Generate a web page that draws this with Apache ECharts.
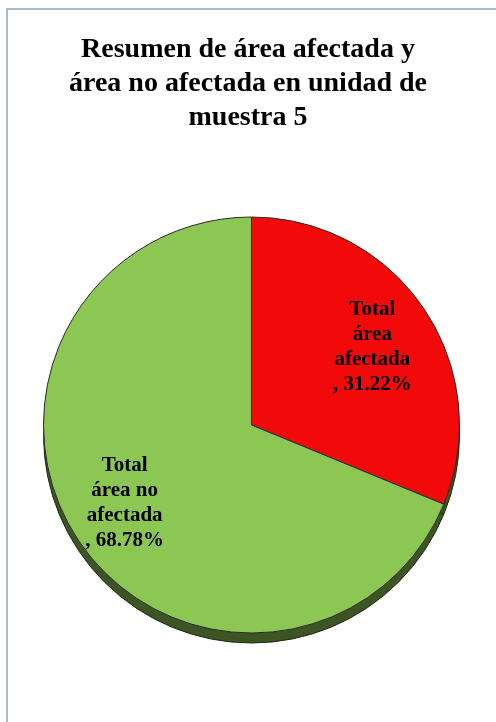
<!DOCTYPE html>
<html>
<head>
<meta charset="utf-8">
<script src="https://cdn.jsdelivr.net/npm/echarts@6/dist/echarts.min.js"></script>
<style>
  html, body { margin: 0; padding: 0; background: #ffffff; }
  #chart { width: 496px; height: 722px; }
</style>
</head>
<body>
<div id="chart"></div>
<script>
// Slice names (with their line breaks) and percentages
const categories = ['Total\nárea\nafectada', 'Total\nárea no\nafectada'];
const values = [31.22, 68.78];
const sliceColors = ['#f20a0a', '#8dc753'];
const rimColor = '#3d5524';
const titleText = 'Resumen de área afectada y\nárea no afectada en unidad de\nmuestra 5';

const serif = '"Liberation Serif", "Times New Roman", serif';
const center = [251.5, 425];
const R = 208;
// small nudges of each slice label away from the ring midpoint
const labelNudges = [[-3, 5], [-3, -5]];

const pieData = categories.map((name, i) => ({
  name: name,
  value: values[i],
  itemStyle: { color: sliceColors[i] }
}));

const chart = echarts.init(document.getElementById('chart'), null, { renderer: 'canvas' });
chart.setOption({
  backgroundColor: '#ffffff',
  animation: false,
  title: {
    text: titleText,
    left: 'center',
    top: 33,
    padding: 0,
    textStyle: {
      fontFamily: serif,
      fontSize: 28,
      fontWeight: 'bold',
      lineHeight: 34,
      color: '#000000'
    }
  },
  graphic: [{
    type: 'rect',
    shape: { x: 7, y: 9, width: 700, height: 900 },
    style: { fill: null, stroke: '#a8b8cd', lineWidth: 2 },
    silent: true,
    z: -10
  }],
  series: [
    {
      // dark side of the disc, shifted down to give the pie its thickness
      type: 'pie',
      silent: true,
      center: [center[0], center[1] + 10],
      radius: [0, R],
      startAngle: 90,
      clockwise: true,
      label: { show: false },
      labelLine: { show: false },
      itemStyle: { color: rimColor, borderColor: '#1e2a12', borderWidth: 1 },
      data: pieData.map(d => ({ name: d.name, value: d.value })),
      z: 1
    },
    {
      type: 'pie',
      silent: true,
      center: center,
      radius: [0, R],
      startAngle: 90,
      clockwise: true,
      label: { show: false },
      labelLine: { show: false },
      itemStyle: { borderColor: '#2b2b2b', borderWidth: 1 },
      data: pieData,
      z: 2
    },
    {
      // transparent ring that carries the slice labels
      type: 'pie',
      silent: true,
      center: center,
      radius: [84, R],
      startAngle: 90,
      clockwise: true,
      itemStyle: { color: 'rgba(0,0,0,0)' },
      labelLine: { show: false },
      label: {
        show: true,
        position: 'inside',
        fontFamily: serif,
        fontSize: 21,
        fontWeight: 'bold',
        lineHeight: 25,
        color: '#000000',
        align: 'center',
        formatter: p => p.name + '\n, ' + p.value.toFixed(2) + '%'
      },
      data: pieData.map((d, i) => ({
        name: d.name,
        value: d.value,
        label: { offset: labelNudges[i] }
      })),
      z: 3
    }
  ]
});
</script>
</body>
</html>
